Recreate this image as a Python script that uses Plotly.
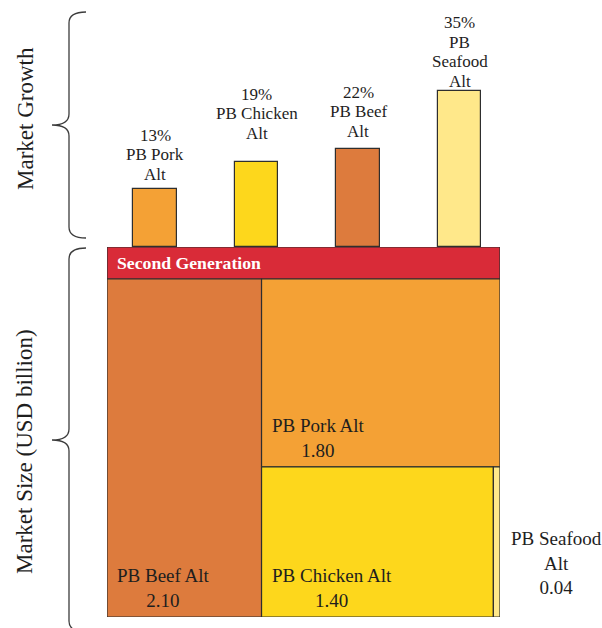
import plotly.graph_objects as go

# ---- data ----
growth_names = [["PB Pork", "Alt"], ["PB Chicken", "Alt"], ["PB Beef", "Alt"], ["PB", "Seafood", "Alt"]]
growth_pct = [13, 19, 22, 35]
growth_colors = ["#F4A135", "#FDD71C", "#DD7B3D", "#FFE88A"]

size_names = ["PB Beef Alt", "PB Pork Alt", "PB Chicken Alt", "PB Seafood Alt"]
size_values = [2.10, 1.80, 1.40, 0.04]
size_colors = ["#DD7B3D", "#F4A135", "#FDD71C", "#FFE88A"]
group_name = "Second Generation"
header_color = "#D92B38"

# ---- page geometry (pixels) ----
W, H = 602, 628
FONT = "Liberation Serif"
INK = "#1e1e1e"
EDGE = "#2e2e2e"


def fx(p):
    return p / W


def fy(p):
    return 1 - p / H


# bar panel: centres start at 155px, spaced 101.5px, baseline at 247px, 4.45px per percent
BAR_C0, BAR_STEP, BASE_Y, PX_PER_PCT = 155, 101.5, 247, 4.45
# distance (px) from each bar top up to the centre of its last label line
LABEL_GAP = [15, 29, 18, 10]
LINE_STEP = 19.5
# treemap panel
TM_LEFT, TM_RIGHT, TM_TOP, TM_HEAD, TM_BOTTOM = 107, 500, 247, 279, 617

fig = go.Figure()

# ---- market growth bars ----
fig.add_trace(go.Bar(
    x=list(range(len(growth_pct))), y=growth_pct,
    width=0.43,
    marker=dict(color=growth_colors, line=dict(color=EDGE, width=1.2)),
    hoverinfo="skip", showlegend=False,
    xaxis="x", yaxis="y",
))
for i, (name, pct) in enumerate(zip(growth_names, growth_pct)):
    lines = [f"{pct}%"] + name
    for k, line in enumerate(reversed(lines)):
        fig.add_annotation(
            x=i, y=pct, xref="x", yref="y", yanchor="middle",
            yshift=LABEL_GAP[i] + k * LINE_STEP,
            text=line, showarrow=False,
            font=dict(family=FONT, size=17, color=INK),
        )

# ---- market size treemap (slice layout computed from the values) ----
total = sum(size_values)
beef_w = size_values[0] / total
rest = total - size_values[0]
pork_h = size_values[1] / rest
chick_w = (1 - beef_w) * size_values[2] / (size_values[2] + size_values[3])
rects = [
    (0, beef_w, 0, 1),
    (beef_w, 1, 1 - pork_h, 1),
    (beef_w, beef_w + chick_w, 0, 1 - pork_h),
    (beef_w + chick_w, 1, 0, 1 - pork_h),
]
head_top = (TM_BOTTOM - TM_TOP) / (TM_BOTTOM - TM_HEAD)


def box(x0, x1, y0, y1, color):
    return go.Scatter(
        x=[x0, x1, x1, x0, x0], y=[y0, y0, y1, y1, y0],
        mode="lines", fill="toself", fillcolor=color,
        line=dict(color=EDGE, width=1.2),
        hoverinfo="skip", showlegend=False, xaxis="x2", yaxis="y2",
    )


fig.add_trace(box(0, 1, 1, head_top, header_color))
for (x0, x1, y0, y1), c in zip(rects, size_colors):
    fig.add_trace(box(x0, x1, y0, y1, c))

fig.add_annotation(
    x=0, y=(1 + head_top) / 2, xref="x2", yref="y2", xanchor="left", xshift=8,
    text=f"<b>{group_name}</b>", showarrow=False,
    font=dict(family=FONT, size=17.7, color="white"),
)
for (x0, x1, y0, y1), name, v in zip(rects[:3], size_names[:3], size_values[:3]):
    fig.add_annotation(
        x=x0, y=y0, xref="x2", yref="y2", xanchor="left", yanchor="bottom",
        xshift=8, yshift=4, text=f"{name}<br>{v:.2f}", showarrow=False, align="center",
        font=dict(family=FONT, size=19, color=INK),
    )
sx0, sx1, sy0, sy1 = rects[3]
fig.add_annotation(
    x=sx1, y=sy0, xref="x2", yref="y2", xanchor="left", yanchor="bottom",
    xshift=9, yshift=17, text="PB Seafood<br>Alt<br>%.2f" % size_values[3],
    showarrow=False, align="center",
    font=dict(family=FONT, size=19, color=INK),
)


# ---- braces and their titles ----
def brace(top, bottom, tip_x=52, arm_x=86, stem_x=69, r=11):
    mid = (top + bottom) / 2
    pts = [
        f"M {fx(arm_x)},{fy(top)}",
        f"Q {fx(stem_x)},{fy(top)} {fx(stem_x)},{fy(top + r)}",
        f"L {fx(stem_x)},{fy(mid - r)}",
        f"Q {fx(stem_x)},{fy(mid)} {fx(tip_x)},{fy(mid)}",
        f"Q {fx(stem_x)},{fy(mid)} {fx(stem_x)},{fy(mid + r)}",
        f"L {fx(stem_x)},{fy(bottom - r)}",
        f"Q {fx(stem_x)},{fy(bottom)} {fx(arm_x)},{fy(bottom)}",
    ]
    return dict(type="path", xref="paper", yref="paper", path=" ".join(pts),
                line=dict(color="#3c3c3c", width=1.3))


shapes = [brace(12, 238), brace(248, 632)]
for text, cy in [("Market Growth", 119), ("Market Size (USD billion)", 452)]:
    fig.add_annotation(
        x=fx(25), y=fy(cy), xref="paper", yref="paper", textangle=-90,
        xanchor="center", yanchor="middle",
        text=text, showarrow=False, font=dict(family=FONT, size=23, color=INK),
    )

hidden = dict(visible=False, showgrid=False, zeroline=False, fixedrange=True)
fig.update_layout(
    width=W, height=H, margin=dict(l=0, r=0, t=0, b=0),
    paper_bgcolor="white", plot_bgcolor="rgba(0,0,0,0)",
    shapes=shapes, bargap=0,
    xaxis=dict(domain=[0, 1], range=[-BAR_C0 / BAR_STEP, (W - BAR_C0) / BAR_STEP], **hidden),
    yaxis=dict(domain=[fy(BASE_Y), 1], range=[0, BASE_Y / PX_PER_PCT], **hidden),
    xaxis2=dict(domain=[fx(TM_LEFT), fx(TM_RIGHT)], range=[0, 1], anchor="y2", **hidden),
    yaxis2=dict(domain=[fy(TM_BOTTOM), fy(TM_TOP)], range=[0, head_top], anchor="x2", **hidden),
)

fig.write_html("out.html")
